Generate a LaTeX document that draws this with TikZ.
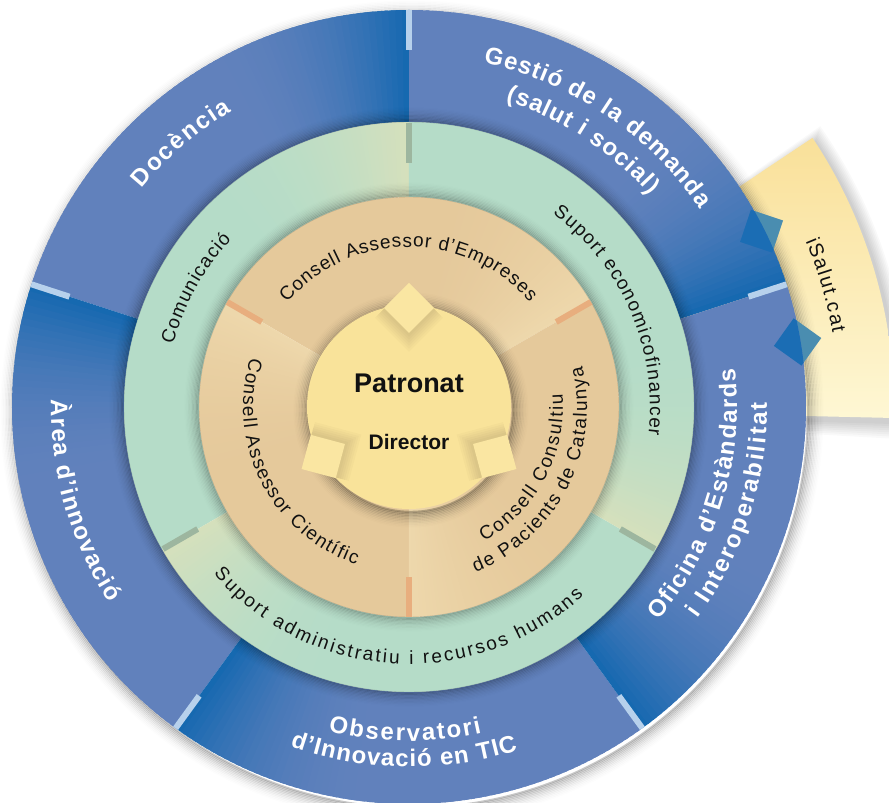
\documentclass[tikz,border=0pt]{standalone}
\usepackage{fontspec}
\setmainfont{Liberation Sans}
\usetikzlibrary{decorations.text}

\definecolor{bluebase}{HTML}{6181BC}
\definecolor{bluedark}{HTML}{1468B0}
\definecolor{greenbase}{HTML}{B5DCC8}
\definecolor{greenlight}{HTML}{D6E0BC}
\definecolor{orangebase}{HTML}{E5C99B}
\definecolor{orangelight}{HTML}{EED8AC}
\definecolor{centeryellow}{HTML}{F9E39A}
\definecolor{tabyellow}{HTML}{FAE6A2}
\definecolor{bluemark}{HTML}{B7D1EC}
\definecolor{greenmark}{HTML}{9DB69F}
\definecolor{orangemark}{HTML}{E8AE7E}
\definecolor{tabdark}{HTML}{1B6DB4}
\definecolor{tabteal}{HTML}{4A8DB0}
\definecolor{bandtop}{HTML}{F9E099}
\definecolor{bandbot}{HTML}{FEF7D4}
\definecolor{inktext}{HTML}{111111}

\newcommand\bluefont{\color{white}\bfseries\fontsize{24}{24}\selectfont}
\newcommand\inkfont{\color{inktext}\fontsize{19}{19}\selectfont}
\newcommand\salutfont{\color{inktext}\fontsize{20}{20}\selectfont}

% #1 start angle, #2 last index, #3 r in, #4 r out, #5 start colour, #6 base colour, #7 fade, #8 sweep
\newcommand\gradring[8]{%
  \foreach \i in {0,...,#2}{%
    \pgfmathsetmacro\aa{#1+\i}%
    \pgfmathsetmacro\bb{min(#1+\i+1.6,#1+#8)}%
    \pgfmathsetmacro\pp{100*(max(0,1-(\i+0.5)/#7))^2}%
    \fill[#5!\pp!#6] (\aa:#3) arc[start angle=\aa,end angle=\bb,radius=#3]
      -- (\bb:#4) arc[start angle=\bb,end angle=\aa,radius=#4] -- cycle;
  }}

% #1 x shift, #2 y shift, #3 radius, #4 width, #5 max opacity
\newcommand\ringshadow[5]{%
  \foreach \k in {1,...,12}{%
    \pgfmathsetmacro\rr{#3+(\k-0.5)*#4/12}%
    \pgfmathsetmacro\op{#5*(1-(\k-1)/12)^2}%
    \pgfmathsetmacro\lw{#4/12+0.4}%
    \draw[black,opacity=\op,line width=\lw pt] (#1,#2) circle (\rr);
  }}

% #1 font, #2 text, #3 radius, #4 start angle, #5 end angle
\newcommand\arctext[5]{%
  \path[decorate,decoration={text along path,text={|#1|#2},text align={fit to path}}]
    (#4:#3) arc[start angle=#4,end angle=#5,radius=#3];}

\tikzset{
  bluetick/.style={bluemark,line width=6pt},
  greentick/.style={greenmark,line width=6pt},
  orangetick/.style={orangemark,line width=6pt},
}

\begin{document}
\begin{tikzpicture}[x=1pt,y=1pt]
\useasboundingbox (-409,-396) rectangle (480,407);
\fill[white] (-409,-396) rectangle (480,407);
\clip (-409,-396) rectangle (480,407);

% ---- iSalut.cat band (behind the outer ring) ----
\foreach \k in {1,...,8}{
  \pgfmathsetmacro\ro{485+1.6*\k}
  \pgfmathsetmacro\sa{-1.3-0.25*\k}
  \pgfmathsetmacro\ea{33.7+0.15*\k}
  \fill[black,opacity=0.025,shift={(3,-4)}] (\sa:300) -- (\sa:\ro)
     arc[start angle=\sa,end angle=\ea,radius=\ro] -- (\ea:300) -- cycle;
}
\shade[top color=bandtop,bottom color=bandbot] (-1.3:300) -- (-1.3:485)
   arc[start angle=-1.3,end angle=33.7,radius=485] -- (33.7:300) -- cycle;

% ---- outer drop shadow ----
\ringshadow{3}{-5}{395}{18}{0.22}

% ---- blue tabs, outer part ----
\foreach \t in {26.5,9.5}{
  \fill[tabteal,rotate=\t] (418,0) -- (394,24) -- (370,0) -- (394,-24) -- cycle;
}

% ---- outer ring ----
\gradring{18}{71}{285}{397}{bluedark}{bluebase}{30}{72}
\gradring{90}{71}{285}{397}{bluedark}{bluebase}{30}{72}
\gradring{162}{71}{285}{397}{bluedark}{bluebase}{30}{72}
\gradring{234}{71}{285}{397}{bluedark}{bluebase}{30}{72}
\gradring{306}{71}{285}{397}{bluedark}{bluebase}{30}{72}

% ---- blue tabs, inner part ----
\begin{scope}
  \clip (0,0) circle (397);
  \foreach \t in {26.5,9.5}{
    \fill[tabdark,rotate=\t] (418,0) -- (394,24) -- (370,0) -- (394,-24) -- cycle;
  }
\end{scope}

% ---- middle ring ----
\gradring{90}{119}{210}{285}{greenlight}{greenbase}{45}{120}
\gradring{210}{119}{210}{285}{greenlight}{greenbase}{45}{120}
\gradring{330}{119}{210}{285}{greenlight}{greenbase}{45}{120}
\ringshadow{0}{0}{285}{16}{0.20}

% ---- inner ring ----
\gradring{30}{119}{95}{210}{orangelight}{orangebase}{55}{120}
\gradring{150}{119}{95}{210}{orangelight}{orangebase}{55}{120}
\gradring{270}{119}{95}{210}{orangelight}{orangebase}{55}{120}
\ringshadow{0}{0}{210}{16}{0.18}

% ---- centre ----
\ringshadow{2}{-3}{101}{18}{0.26}
\node[circle,fill=centeryellow,minimum size=204pt,inner sep=0pt] (centre) at (0,0) {};
\begin{scope}
  \clip (0,0) circle (102);
  \foreach \t in {90,210,330}{
    \foreach \k in {1,...,6}{
      \pgfmathsetmacro\hd{25+1.5*\k}
      \pgfmathsetmacro\cx{98-1.5*\k}
      \fill[black,opacity=0.018,rotate=\t] (\cx+\hd,0) -- (\cx,\hd) -- (\cx-\hd,0) -- (\cx,-\hd) -- cycle;
    }
  }
\end{scope}
\foreach \t in {90,210,330}{
  \fill[tabyellow,rotate=\t] (124,0) -- (99,25) -- (74,0) -- (99,-25) -- cycle;
}

% ---- ticks ----
\foreach \t in {18,90,162,234,306}{ \draw[bluetick] (\t:397) -- (\t:357); }
\foreach \t in {90,210,330}{ \draw[greentick] (\t:284) -- (\t:244); }
\foreach \t in {30,150,270}{ \draw[orangetick] (\t:210) -- (\t:170); }

% ---- outer ring labels ----
\arctext{\bluefont}{Docència}{345}{140.7}{120.9}
\arctext{\bluefont}{Gestió de la demanda}{352}{77.8}{34.2}
\arctext{\bluefont}{(salut i social)}{321}{72.5}{41.3}
\arctext{\bluefont}{Àrea d’innovació}{358}{178.8}{213.2}
\arctext{\bluefont}{Observatori}{334}{256.0}{282.6}
\arctext{\bluefont}{d’Innovació en TIC}{360}{250.7}{287.6}
\arctext{\bluefont}{Oficina d’Estàndards}{328}{319.4}{366.8}
\arctext{\bluefont}{i Interoperabilitat}{358}{323.7}{360.7}

% ---- middle ring labels ----
\arctext{\inkfont}{Comunicació}{244}{165.1}{136.7}
\arctext{\inkfont}{Suport economicofinancer}{241}{53.4}{-6.7}
\arctext{\inkfont}{Suport administratiu i recursos humans}{257}{220.5}{312.8}

% ---- inner ring labels ----
\arctext{\inkfont}{Consell Assessor d’Empreses}{160}{139.5}{41.0}
\arctext{\inkfont}{Consell Assessor Científic}{166}{162.6}{251.4}
\arctext{\inkfont}{Consell Consultiu}{154}{299.2}{365.0}
\arctext{\inkfont}{de Pacients de Catalunya}{178}{292.0}{373.3}

% ---- band label ----
\arctext{\salutfont}{iSalut.cat}{430}{22.7}{9.9}

% ---- centre labels ----
\node[anchor=base,text=inktext,font=\bfseries\fontsize{27}{27}\selectfont] (patronat) at (0,14) {Patronat};
\node[anchor=base,text=inktext,font=\bfseries\fontsize{21}{21}\selectfont] (director) at (0,-43) {Director};
\end{tikzpicture}
\end{document}
